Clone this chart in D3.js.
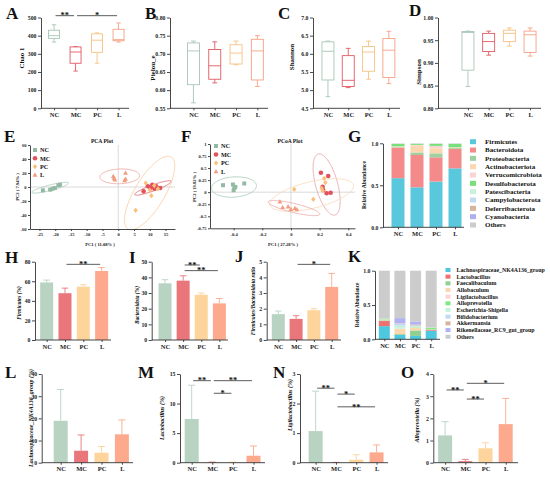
<!DOCTYPE html>
<html><head><meta charset="utf-8">
<script src="https://cdn.jsdelivr.net/npm/d3@7"></script>
<style>body{margin:0;background:#fff} svg{display:block}</style>
</head><body><svg id="c" width="550" height="486"></svg>
<script>
// ---------------- DATA ----------------
const groups = ["NC","MC","PC","L"];
// box stats: [min, q1, median, q3, max]
const chao1   = [[365,385,400,430,460],[205,248,310,338,340],[248,308,375,410,415],[365,372,378,435,470]];
const pielou  = [[0.565,0.615,0.708,0.730,0.735],[0.620,0.630,0.667,0.712,0.733],[0.670,0.672,0.702,0.725,0.735],[0.610,0.628,0.708,0.740,0.750]];
const shannon = [[4.82,5.28,6.07,6.33,6.35],[5.07,5.10,5.27,5.95,6.15],[5.30,5.52,6.05,6.20,6.35],[5.18,5.35,6.10,6.42,6.62]];
const simpson = [[0.848,0.884,0.967,0.969,0.970],[0.917,0.925,0.947,0.965,0.970],[0.937,0.947,0.965,0.972,0.977],[0.915,0.923,0.962,0.970,0.977]];
const chaoTicks = [0,100,200,300,400,500];
const pielouTicks = [0.55,0.60,0.65,0.70,0.75,0.80];
const shannonTicks = [4.5,5.0,5.5,6.0,6.5,7.0];
const simpsonTicks = [0.80,0.85,0.90,0.95,1.00];

// PCA (E)
const pcaNC = [[-23.9,-4.8],[-21.6,-3.8],[-20.8,-2.4],[-20.1,-1.4],[-19.0,2.4],[-18.5,3.3]];
const pcaMC = [[8.05,-6.2],[9.4,1],[10.2,-1.4],[10.8,3.3],[11.0,0],[11.5,-2.4],[12.05,1],[13.3,-1.4]];
const pcaPC = [[8.7,5.7],[10.5,-12.4],[5.5,-33.3],[11.4,2.0],[12.6,-2.6],[10.0,-4.5]];
const pcaL  = [[-1.6,15.2],[-1.1,10.5],[2.3,20.0],[2.3,11.4],[2.0,9.5],[-1.3,12.5]];
const pcaXTicks = [-25,-20,-15,-10,-5,0,5,10,15];
const pcaYTicks = [-60,-40,-20,0,20,40,60];
// ellipses: [cx, cy, ux, uy, vx, vy] (data units)
const pcaEll = [[-21.6,-1,5.8,6.65,0.2,-3.8],[11,-1.4,5.8,9.5,0.32,-4.0],[9.95,-8.6,6.85,51.4,4.07,-11.0],[0.47,15.2,6.3,1.0,0,10.5]];

// PCoA (F)
const pcoaNC = [[-0.474,0.145],[-0.405,0.159],[-0.40,0.04],[-0.395,0.09],[-0.388,0.11],[-0.326,0.18]];
const pcoaMC = [[0.209,0.404],[0.260,0.336],[0.221,0.114],[0.225,0.045],[0.249,-0.023],[0.277,-0.011]];
const pcoaPC = [[0.232,0.288],[0.023,0.06],[0.156,-0.148],[0.214,0.08],[0.222,0.03],[0.24,0.2]];
const pcoaL  = [[-0.077,-0.198],[-0.058,-0.314],[0.0,-0.356],[0.028,-0.335],[0.042,-0.36],[-0.02,-0.30]];
const pcoaXTicks = [-0.4,-0.2,0,0.2,0.4];
const pcoaYTicks = [-0.75,-0.5,-0.25,0,0.25,0.5,0.75,1];
const pcoaEll = [[-0.398,0.107,0.157,0.025,0,0.21],[0.249,0.159,-0.0586,0.633,0.074,0.060],[0.1446,-0.059,0.291,0.2076,0.0216,-0.268],[0.021,-0.329,0.18,-0.129,-0.0073,-0.0907]];

// G phyla
const phyla = ["Firmicutes","Bacteroidota","Proteobacteria","Actinobacteriota","Verrucomicrobiota","Desulfobacterota","Patescibacteria","Campylobacterota","Deferribacterota","Cyanobacteria","Others"];
const phylaVals = [
  [0.585,0.476,0.544,0.702],
  [0.363,0.385,0.289,0.231],
  [0.006,0.030,0.048,0.010],
  [0.006,0.080,0.060,0.006],
  [0.004,0.010,0.028,0.004],
  [0.028,0.012,0.024,0.040],
  [0.003,0.002,0.002,0.002],
  [0.001,0.002,0.001,0.001],
  [0.001,0.001,0.001,0.001],
  [0.001,0.001,0.001,0.001],
  [0.002,0.001,0.002,0.002]];
const phylaColors = ["#5ac8dc","#f48a8a","#9fd09f","#fbd6ae","#fbd3d3","#78e078","#c8f2dc","#c2d9f2","#d6b59b","#aeaef0","#cccccc"];

// K genera
const genera = ["Lachnospiraceae_NK4A136_group","Lactobacillus","Faecalibaculum","Allobaculum","Ligilactobacillus","Alloprevotella","Escherichia-Shigella","Bifidobacterium","Akkermansia","Rikenellaceae_RC9_gut_group","Others"];
const generaVals = [
  [0.192,0.063,0.048,0.126],
  [0.074,0.001,0.001,0.012],
  [0.010,0.012,0.080,0.008],
  [0.004,0.075,0.040,0.002],
  [0.011,0.002,0.001,0.003],
  [0.012,0.001,0.006,0.017],
  [0.002,0.045,0.015,0.002],
  [0.002,0.030,0.012,0.001],
  [0.001,0.005,0.012,0.001],
  [0.001,0.075,0.045,0.002],
  [0.691,0.691,0.740,0.826]];
const generaColors = ["#4ec8df","#ee7070","#90cf90","#fbd8b0","#fcd4d4","#7ee87e","#c8f2dc","#c2d9f2","#d6b59b","#b2b2f2","#cccccc"];
const stackTicks = [0,0.5,1];

// bar panels: means and mean+SD
const firmMean = [58.8,47.8,54.5,70.5], firmErr = [61.2,53.0,56.5,74.0];
const bactMean = [36.2,37.9,28.9,23.4], bactErr = [38.5,41.0,30.0,26.5];
const fbMean = [1.65,1.35,1.90,3.39], fbErr = [1.85,1.55,2.0,4.25];
const lachMean = [18.9,5.4,4.5,12.8], lachErr = [33.0,12.5,7.3,19.3];
const lactMean = [7.39,0.05,0.05,1.18], lactErr = [13.1,0.1,0.1,2.82];
const ligMean = [1.07,0.005,0.10,0.35], ligErr = [2.42,0.01,0.27,0.60];
const allopMean = [1.23,0.07,0.65,1.74], allopErr = [1.85,0.15,0.90,2.90];
const firmTicks=[0,20,40,60,80], bactTicks=[0,10,20,30,40,50], fbTicks=[0,1,2,3,4,5];
const lachTicks=[0,10,20,30,40], lactTicks=[0,5,10,15], ligTicks=[0,1,2,3], allopTicks=[0,1,2,3,4];

// significance: [from, to, y level (data), label]
const sigA = [["NC","MC",510,"**"],["MC","L",510,"*"]];
const sigH = [["MC","L",77.3,"**"]];
const sigI = [["MC","PC",47.9,"**"],["MC","L",44.3,"**"]];
const sigJ = [["MC","L",4.83,"*"]];
const sigM = [["NC","MC",13.87,"**"],["MC","L",13.87,"**"],["MC","PC",11.74,"*"]];
const sigN = [["NC","MC",2.52,"**"],["MC","PC",2.32,"*"],["MC","L",1.89,"**"]];
const sigO = [["MC","L",3.58,"*"],["NC","MC",3.28,"**"],["MC","PC",2.87,"**"]];

// ---------------- STYLE ----------------
const boxColors = ["#a7c6b5","#e05a62","#f6c282","#f5a084"];
const barColors = ["#b8d3c2","#e9767b","#fdd49b","#fca98d"];
const ptColors  = ["#94b9a4","#e0525c","#fbbf7a","#f39c7f"];
const ellColorsE = ["#a6c9b6","#e0626b","#f8cc9c","#eba39b"];
const ellColorsF = ["#a6c9b6","#e6a0a5","#f9d8b8","#eba8a4"];
const FONT = '"Liberation Serif","Times New Roman",serif';
const AX = "#333";
const svg = d3.select("#c");

function styleAxis(g, fs){
  g.selectAll(".domain").attr("stroke",AX).attr("stroke-width",0.9);
  g.selectAll(".tick line").attr("stroke",AX).attr("stroke-width",0.9);
  g.selectAll(".tick text").attr("font-size",fs).attr("font-family",FONT).attr("font-weight","bold").attr("fill","#222");
}
function txt(x,y,s,fs,o={}){
  const t = svg.append("text").attr("x",x).attr("y",y).text(s)
    .attr("font-size",fs).attr("font-family",FONT).attr("font-weight","bold").attr("fill",o.fill||"#111");
  if(o.anchor) t.attr("text-anchor",o.anchor);
  if(o.rot){ t.attr("transform",`rotate(-90,${x},${y})`).attr("dominant-baseline","central"); }
  if(o.italic) t.attr("font-style","italic");
  return t;
}
function fmtFixed(n){ return d => d3.format("."+n+"f")(d).replace("−","-"); }
const fmtPlain = d => String(d);

function valAxis(y, axisX, ticks, fmt, fs){
  const g = svg.append("g").attr("transform",`translate(${axisX},0)`)
    .call(d3.axisLeft(y).tickValues(ticks).tickFormat(fmt).tickSize(3).tickSizeOuter(0).tickPadding(1.5));
  styleAxis(g, fs);
}
function catAxis(x, y0, axisX, xEnd, fs){
  const g = svg.append("g").attr("transform",`translate(0,${y0})`)
    .call(d3.axisBottom(x).tickSize(2).tickSizeOuter(0).tickPadding(2));
  g.select(".domain").remove();
  g.append("line").attr("x1",axisX).attr("x2",xEnd).attr("stroke",AX).attr("stroke-width",0.9);
  styleAxis(g, fs);
}
function drawSig(x, y, sigs){
  sigs.forEach(s=>{
    const x1 = x(s[0])+1.5, x2 = x(s[1])-1.5, yy = y(s[2]);
    svg.append("line").attr("x1",x1).attr("x2",x2).attr("y1",yy).attr("y2",yy).attr("stroke",AX).attr("stroke-width",0.8);
    txt((x1+x2)/2, yy+2.8, s[3], 8.5, {anchor:"middle"});
  });
}

function boxPanel(c){
  const y = d3.scaleLinear().domain(c.domain).range(c.yr);
  const x = d3.scalePoint().domain(groups).range(c.xr).padding(0.5);
  valAxis(y, c.axisX, c.ticks, c.fmt, 5.8);
  catAxis(x, c.yr[0], c.axisX, c.xEnd, 6.5);
  const bw = c.bw || 12;
  const rows = c.data.map((d,i)=>({g:groups[i], d, col:boxColors[i]}));
  const g = svg.append("g").attr("fill","none").attr("stroke-width",0.9);
  rows.forEach(r=>{
    const cx = x(r.g), d = r.d;
    const gg = g.append("g").attr("stroke", r.col);
    gg.append("line").attr("x1",cx).attr("x2",cx).attr("y1",y(d[0])).attr("y2",y(d[1]));
    gg.append("line").attr("x1",cx).attr("x2",cx).attr("y1",y(d[3])).attr("y2",y(d[4]));
    gg.append("line").attr("x1",cx-bw*0.2).attr("x2",cx+bw*0.2).attr("y1",y(d[0])).attr("y2",y(d[0]));
    gg.append("line").attr("x1",cx-bw*0.2).attr("x2",cx+bw*0.2).attr("y1",y(d[4])).attr("y2",y(d[4]));
    gg.append("rect").attr("x",cx-bw/2).attr("width",bw).attr("y",y(d[3])).attr("height",y(d[1])-y(d[3])).attr("fill","#fff");
    gg.append("line").attr("x1",cx-bw/2).attr("x2",cx+bw/2).attr("y1",y(d[2])).attr("y2",y(d[2]));
  });
  if(c.sig) drawSig(x,y,c.sig);
}

function barPanel(c){
  const y = d3.scaleLinear().domain(c.domain).range(c.yr);
  const x = d3.scalePoint().domain(groups).range(c.xr).padding(0.5);
  const bw = c.bw || 13;
  const rows = groups.map((g,i)=>({g, m:c.mean[i], e:c.err[i], col:barColors[i]}));
  svg.append("g").selectAll("line").data(rows).join("line")
    .attr("x1",d=>x(d.g)).attr("x2",d=>x(d.g)).attr("y1",d=>y(d.m)).attr("y2",d=>y(d.e))
    .attr("stroke",d=>d.col).attr("stroke-width",0.9);
  svg.append("g").selectAll("line").data(rows).join("line")
    .attr("x1",d=>x(d.g)-bw*0.25).attr("x2",d=>x(d.g)+bw*0.25).attr("y1",d=>y(d.e)).attr("y2",d=>y(d.e))
    .attr("stroke",d=>d.col).attr("stroke-width",0.9);
  svg.append("g").selectAll("rect").data(rows).join("rect")
    .attr("x",d=>x(d.g)-bw/2).attr("width",bw).attr("y",d=>y(d.m)).attr("height",d=>y(0)-y(d.m)).attr("fill",d=>d.col);
  valAxis(y, c.axisX, c.ticks, fmtPlain, 5.8);
  catAxis(x, c.yr[0], c.axisX, c.xEnd, 6.5);
  if(c.sig) drawSig(x,y,c.sig);
}

function stackPanel(c){
  const y = d3.scaleLinear().domain([0,1]).range(c.yr);
  const x = d3.scalePoint().domain(groups).range(c.xr).padding(0.5);
  const table = groups.map((g,i)=>{ const o={group:g}; c.keys.forEach((k,j)=>o[k]=c.vals[j][i]); return o; });
  const series = d3.stack().keys(c.keys)(table);
  const bw = c.bw;
  svg.append("g").selectAll("g").data(series).join("g").attr("fill",(d,i)=>c.colors[i])
    .selectAll("rect").data(d=>d).join("rect")
    .attr("x",d=>x(d.data.group)-bw/2).attr("width",bw)
    .attr("y",d=>y(d[1])).attr("height",d=>Math.max(0,y(d[0])-y(d[1])));
  valAxis(y, c.axisX, stackTicks, fmtFixed(1), 5.8);
  catAxis(x, c.yr[0], c.axisX, c.xEnd, 6.5);
  // legend
  c.keys.forEach((k,i)=>{
    const yy = c.leg.y0 + i*c.leg.dy;
    svg.append("rect").attr("x",c.leg.x).attr("y",yy-c.leg.sh/2).attr("width",c.leg.sw).attr("height",c.leg.sh).attr("fill",c.colors[i]);
    txt(c.leg.tx, yy + c.leg.fs*0.35, k, c.leg.fs);
  });
}

function marker(g, shape, px, py, col){
  if(shape==="square") g.append("rect").attr("x",px-2).attr("y",py-2).attr("width",4).attr("height",4).attr("fill",col);
  else if(shape==="circle") g.append("circle").attr("cx",px).attr("cy",py).attr("r",2.3).attr("fill",col);
  else if(shape==="diamond") g.append("path").attr("d",`M${px},${py-2.6}L${px+2.2},${py}L${px},${py+2.6}L${px-2.2},${py}Z`).attr("fill",col);
  else g.append("path").attr("d",`M${px},${py-2.6}L${px+2.4},${py+1.8}L${px-2.4},${py+1.8}Z`).attr("fill",col);
}
const shapes = ["square","circle","diamond","triangle"];

function scatterPanel(c){
  const x = d3.scaleLinear().domain(c.xd).range(c.xr);
  const y = d3.scaleLinear().domain(c.yd).range(c.yr);
  // reference lines
  svg.append("line").attr("x1",x(0)).attr("x2",x(0)).attr("y1",c.yr[0]).attr("y2",c.yr[1]).attr("stroke","#d0d0d0").attr("stroke-width",0.8);
  svg.append("line").attr("x1",c.xr[0]).attr("x2",c.xr[1]).attr("y1",y(0)).attr("y2",y(0)).attr("stroke","#d0d0d0").attr("stroke-width",0.8);
  // ellipses
  const ts = d3.range(0, 2*Math.PI, Math.PI/60);
  const line = d3.line().curve(d3.curveLinearClosed);
  c.ell.forEach((e,i)=>{
    const pts = ts.map(t=>[x(e[0]+Math.cos(t)*e[2]+Math.sin(t)*e[4]), y(e[1]+Math.cos(t)*e[3]+Math.sin(t)*e[5])]);
    svg.append("path").attr("d",line(pts)).attr("fill","none").attr("stroke",c.ellColors[i]).attr("stroke-width",0.8);
  });
  const g = svg.append("g");
  c.pts.forEach((set,i)=> set.forEach(p=>marker(g, shapes[i], x(p[0]), y(p[1]), ptColors[i])));
  // axes
  const gy = svg.append("g").attr("transform",`translate(${c.xr[0]},0)`)
    .call(d3.axisLeft(y).tickValues(c.yt).tickFormat(fmtPlain).tickSize(2).tickSizeOuter(0).tickPadding(1.5));
  styleAxis(gy, 4.6);
  const gx = svg.append("g").attr("transform",`translate(0,${c.yr[0]})`)
    .call(d3.axisBottom(x).tickValues(c.xt).tickFormat(fmtPlain).tickSize(2).tickSizeOuter(0).tickPadding(2));
  styleAxis(gx, 4.6);
  // legend
  groups.forEach((gname,i)=>{
    const yy = c.leg.y0 + i*c.leg.dy;
    marker(svg, shapes[i], c.leg.x, yy, ptColors[i]);
    txt(c.leg.x+5, yy+2.2, gname, 6.2);
  });
  txt(c.title[0], c.title[1], c.title[2], 5.6, {anchor:"middle"});
  txt(c.xl[0], c.xl[1], c.xl[2], 4.6, {anchor:"middle"});
  txt(c.yl[0], c.yl[1], c.yl[2], 4.6, {anchor:"middle", rot:true});
}

// ---------------- DRAW ----------------
const topY = [108.3, 17.5];
boxPanel({data:chao1, domain:[0,500], yr:topY, xr:[43.3,129.3], axisX:41, xEnd:129, ticks:chaoTicks, fmt:fmtPlain, sig:sigA, bw:11});
boxPanel({data:pielou, domain:[0.55,0.80], yr:topY, xr:[182.8,268], axisX:170, xEnd:268, ticks:pielouTicks, fmt:fmtFixed(2), bw:12});
boxPanel({data:shannon, domain:[4.5,7.0], yr:topY, xr:[317.8,399], axisX:313, xEnd:400, ticks:shannonTicks, fmt:fmtFixed(1), bw:12});
boxPanel({data:simpson, domain:[0.80,1.00], yr:topY, xr:[457.6,540.4], axisX:438, xEnd:541, ticks:simpsonTicks, fmt:fmtFixed(2), bw:12});

scatterPanel({xd:[-28,18], yd:[-60,60], xr:[30,175], yr:[229,145], xt:pcaXTicks, yt:pcaYTicks,
  pts:[pcaNC,pcaMC,pcaPC,pcaL], ell:pcaEll, ellColors:ellColorsE,
  leg:{x:35,y0:150,dy:8.3}, title:[102,143,"PCA Plot"], xl:[100,245.5,"PC1 ( 11.08% )"], yl:[17,187,"PC2 ( 7.94% )"]});
scatterPanel({xd:[-0.565,0.447], yd:[-0.75,1], xr:[210,355], yr:[228.3,144], xt:pcoaXTicks, yt:pcoaYTicks,
  pts:[pcoaNC,pcoaMC,pcoaPC,pcoaL], ell:pcoaEll, ellColors:ellColorsF,
  leg:{x:216,y0:146,dy:8.5}, title:[290,143,"PCoA Plot"], xl:[283,245.5,"PC1 ( 27.28% )"], yl:[194,187,"PC2 ( 19.82% )"]});

stackPanel({keys:phyla, vals:phylaVals, colors:phylaColors, yr:[227.3,143.3], xr:[388.5,464.5], axisX:383, xEnd:464, bw:13,
  leg:{x:470,y0:141.7,dy:8.33,sw:6,sh:5,tx:485,fs:7}});
stackPanel({keys:genera, vals:generaVals, colors:generaColors, yr:[339.3,270.7], xr:[376.5,439], axisX:375, xEnd:440, bw:11,
  leg:{x:445.5,y0:270,dy:6.67,sw:5,sh:4,tx:456.5,fs:5.9}});

const midY = [340, 261.7];
barPanel({mean:firmMean, err:firmErr, domain:[0,80], yr:midY, xr:[37.5,110.8], axisX:35, xEnd:111, ticks:firmTicks, sig:sigH});
barPanel({mean:bactMean, err:bactErr, domain:[0,50], yr:midY, xr:[156,228.4], axisX:151.7, xEnd:228, ticks:bactTicks, sig:sigI});
barPanel({mean:fbMean, err:fbErr, domain:[0,5], yr:midY, xr:[269.4,340.6], axisX:266.7, xEnd:341, ticks:fbTicks, sig:sigJ});

const botY = [462.7, 374];
barPanel({mean:lachMean, err:lachErr, domain:[0,40], yr:botY, xr:[50.5,132.1], axisX:41.7, xEnd:133, ticks:lachTicks, bw:14});
barPanel({mean:lactMean, err:lactErr, domain:[0,15], yr:botY, xr:[181.4,263.8], axisX:180, xEnd:265, ticks:lactTicks, sig:sigM, bw:14});
barPanel({mean:ligMean, err:ligErr, domain:[0,3], yr:botY, xr:[305.5,386.7], axisX:300, xEnd:388, ticks:ligTicks, sig:sigN, bw:14});
barPanel({mean:allopMean, err:allopErr, domain:[0,4], yr:botY, xr:[435,515.8], axisX:433.3, xEnd:518, ticks:allopTicks, sig:sigO, bw:14});

// axis titles
txt(22,58,"Chao 1",7,{anchor:"middle",rot:true});
txt(153,68,"Pielou_e",7,{anchor:"middle",rot:true});
txt(292,57,"Shannon",7,{anchor:"middle",rot:true});
txt(418.5,72,"Simpson",7,{anchor:"middle",rot:true});
txt(364,185,"Relative Abundance",5.6,{anchor:"middle",rot:true});
txt(357,305,"Relative Abundance",5.2,{anchor:"middle",rot:true});
txt(18.5,303,"Firmicutes (%)",5.4,{anchor:"middle",rot:true,italic:true});
txt(136.5,305,"Bacteroidota (%)",5.4,{anchor:"middle",rot:true,italic:true});
txt(253,301,"Firmicutes/Bacteroidota ratio",5.6,{anchor:"middle",rot:true,italic:true});
txt(31,418,"Lachnospiraceae_NK4A136_group (%)",6,{anchor:"middle",rot:true,italic:true});
txt(162,418,"Lactobacillus (%)",6,{anchor:"middle",rot:true,italic:true});
txt(290,405,"Ligilactobacillus (%)",6,{anchor:"middle",rot:true,italic:true});
txt(417,420,"Alloprevotella (%)",6,{anchor:"middle",rot:true,italic:true});

// panel letters
const letters = [["A",6,19],["B",145,19],["C",278,19],["D",409,16],["E",4,142],["F",181,142],["G",348,142],
  ["H",5,263],["I",129,263],["J",235,262],["K",348,262],["L",5,378],["M",138,378],["N",273,378],["O",401,378]];
letters.forEach(l=>txt(l[1],l[2],l[0],17));
</script></body></html>
